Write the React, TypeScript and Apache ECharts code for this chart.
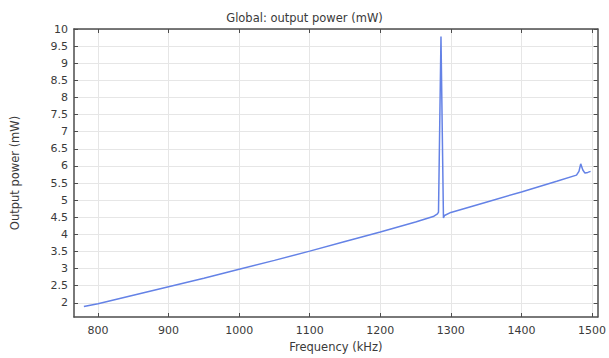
import React, { useEffect, useRef } from "react";
import * as echarts from "echarts";

const frequency = [
  780, 800, 850, 900, 950, 1000, 1050, 1100, 1150, 1200, 1250, 1275, 1281,
  1282.5, 1286, 1289.5, 1291, 1300, 1350, 1400, 1450, 1478, 1481.5, 1484,
  1487, 1490, 1494, 1498,
];
const power = [
  1.89, 1.97, 2.22, 2.47, 2.72, 2.98, 3.24, 3.51, 3.79, 4.07, 4.36, 4.52, 4.6,
  4.65, 9.78, 4.48, 4.55, 4.64, 4.94, 5.24, 5.55, 5.73, 5.84, 6.06, 5.88,
  5.79, 5.81, 5.84,
];
const xTicks = [800, 900, 1000, 1100, 1200, 1300, 1400, 1500];
const yTicks = [2, 2.5, 3, 3.5, 4, 4.5, 5, 5.5, 6, 6.5, 7, 7.5, 8, 8.5, 9, 9.5, 10];

const X_MIN = 766;
const X_MAX = 1508;
const Y_MIN = 1.585;
const Y_MAX = 10;

const FONT = "DejaVu Sans";
const frameColor = "#4d4d4d";
const textColor = "#3a3a3a";

export default function App() {
  const ref = useRef<HTMLDivElement>(null);
  useEffect(() => {
    if (!ref.current) return;
    const chart = echarts.init(ref.current, undefined, { renderer: "svg" });
    const data = frequency.map((f, i) => [f, power[i]]);
    const axisLineStyle = { show: true, lineStyle: { color: frameColor, width: 1.5 } };
    const tickStyle = (vals: number[]) => ({
      show: true,
      inside: true,
      length: 4,
      customValues: vals,
      lineStyle: { color: frameColor, width: 1 },
    });
    chart.setOption({
      animation: false,
      backgroundColor: "#ffffff",
      title: {
        text: "Global: output power (mW)",
        left: "center",
        top: 7,
        textStyle: { fontFamily: FONT, fontSize: 11.5, fontWeight: "normal", color: textColor },
      },
      grid: { left: 74, right: 8, top: 29, bottom: 39, containLabel: false },
      xAxis: [
        {
          type: "value",
          min: X_MIN,
          max: X_MAX,
          name: "Frequency (kHz)",
          nameLocation: "middle",
          nameGap: 24,
          nameTextStyle: { fontFamily: FONT, fontSize: 11.5, color: textColor },
          axisLine: axisLineStyle,
          axisTick: tickStyle(xTicks),
          axisLabel: {
            customValues: xTicks,
            formatter: (v: number) => String(v),
            fontFamily: FONT,
            fontSize: 11,
            color: textColor,
            margin: 8,
          },
          splitLine: { show: true, lineStyle: { color: "#e6e6e6", width: 1 } },
        },
        {
          type: "value",
          position: "top",
          min: X_MIN,
          max: X_MAX,
          axisLine: axisLineStyle,
          axisTick: tickStyle(xTicks),
          axisLabel: { show: false },
          splitLine: { show: false },
        },
      ],
      yAxis: [
        {
          type: "value",
          min: Y_MIN,
          max: Y_MAX,
          name: "Output power (mW)",
          nameLocation: "middle",
          nameRotate: 90,
          nameGap: 53,
          nameTextStyle: { fontFamily: FONT, fontSize: 11.5, color: textColor },
          axisLine: axisLineStyle,
          axisTick: tickStyle(yTicks),
          axisLabel: {
            customValues: yTicks,
            formatter: (v: number) => String(v),
            fontFamily: FONT,
            fontSize: 11,
            color: textColor,
            margin: 6,
          },
          splitLine: { show: true, lineStyle: { color: "#e6e6e6", width: 1 } },
        },
        {
          type: "value",
          position: "right",
          min: Y_MIN,
          max: Y_MAX,
          axisLine: axisLineStyle,
          axisTick: tickStyle(yTicks),
          axisLabel: { show: false },
          splitLine: { show: false },
        },
      ],
      series: [
        {
          type: "line",
          data,
          xAxisIndex: 0,
          yAxisIndex: 0,
          showSymbol: false,
          symbol: "none",
          lineStyle: { color: "#6482e6", width: 1.5 },
        },
      ],
    });
    return () => chart.dispose();
  }, []);
  return (
    <div
      ref={ref}
      style={{ position: "fixed", left: 0, top: 0, width: 609, height: 358, background: "#fff" }}
    />
  );
}
